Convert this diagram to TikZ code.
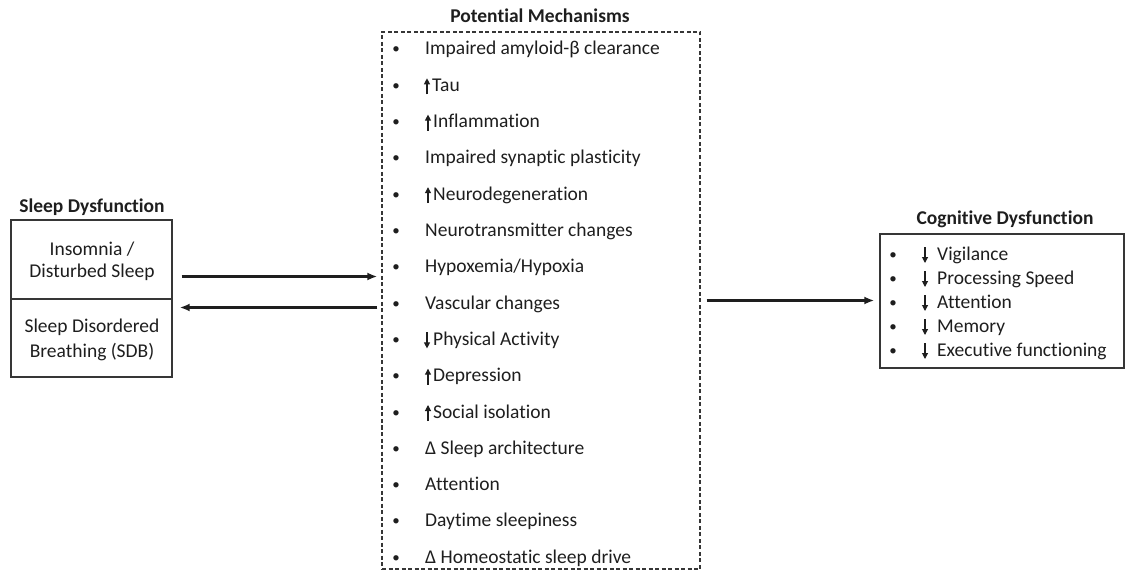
\documentclass[tikz,border=0pt]{standalone}
\usepackage{fontspec}
\setmainfont{Carlito}[Ligatures={NoCommon}]
\usetikzlibrary{arrows.meta}
\definecolor{ink}{HTML}{1E1E1E}
\definecolor{linec}{HTML}{363636}
\begin{document}
\begin{tikzpicture}[x=1pt,y=-1pt,
  txt/.style={font=\fontsize{19.5}{23}\selectfont, text=ink, inner sep=0pt},
  ttl/.style={font=\fontsize{19.5}{23}\selectfont\bfseries, text=ink, inner sep=0pt},
  solidbox/.style={draw=linec, line width=1.4pt, rectangle, inner sep=0pt},
  dashbox/.style={draw=linec, line width=1.4pt, rectangle, inner sep=0pt, dash pattern=on 4pt off 2.5pt},
  arr/.style={draw=ink, line width=2.2pt, -{Latex[length=10pt,width=8pt]}},
  uparr/.style={draw=ink, line width=1.1pt, -{Triangle[length=6pt,width=6pt]}},
  bul/.style={font=\fontsize{15}{18}\selectfont, text=ink, inner sep=0pt, anchor=base},
  item/.style={txt, anchor=base west}
]
\useasboundingbox (0,0) rectangle (1127,572);

% ---------- left block ----------
\node[ttl, anchor=base] (sdt) at (92,213) {Sleep Dysfunction};
\node[solidbox, minimum width=161pt, minimum height=157pt] (sd) at (91.5,298.5) {};
\coordinate (div) at (0,299);
\draw[linec, line width=1.4pt] (sd.west |- div) -- (sd.east |- div);
\node[txt, anchor=base] (l1) at (92,255) {Insomnia /};
\node[txt, anchor=base] (l2) at (92,277) {Disturbed Sleep};
\node[txt, anchor=base] (l3) at (92,332) {Sleep Disordered};
\node[txt, anchor=base] (l4) at (92,357) {Breathing (SDB)};

% ---------- middle block ----------
\node[ttl, anchor=base] (mt) at (540,23) {Potential Mechanisms};
\node[dashbox, minimum width=318pt, minimum height=537pt] (mech) at (541,300.5) {};

\foreach \i/\b in {0/55,1/91.3,2/127.6,3/163.9,4/200.2,5/236.5,6/272.8,7/309.1,8/345.4,9/381.7,10/418,11/454.3,12/490.6,13/526.9,14/563.2}
  \node[bul] (b\i) at (396,\b-1) {•};

\node[item] (m0)  at (425,55)    {Impaired amyloid-β clearance};
\node[item] (m1)  at (432,91.3)  {Tau};
\node[item] (m2)  at (433,127.6) {Inflammation};
\node[item] (m3)  at (425,163.9) {Impaired synaptic plasticity};
\node[item] (m4)  at (433,200.2) {Neurodegeneration};
\node[item] (m5)  at (425,236.5) {Neurotransmitter changes};
\node[item] (m6)  at (425,272.8) {Hypoxemia/Hypoxia};
\node[item] (m7)  at (425,309.1) {Vascular changes};
\node[item] (m8)  at (433,345.4) {Physical Activity};
\node[item] (m9)  at (433,381.7) {Depression};
\node[item] (m10) at (433,418)   {Social isolation};
\node[item] (m11) at (425,454.3) {Δ Sleep architecture};
\node[item] (m12) at (425,490.6) {Attention};
\node[item] (m13) at (425,526.9) {Daytime sleepiness};
\node[item] (m14) at (425,563.2) {Δ Homeostatic sleep drive};

\foreach \n in {m1,m2,m4,m9,m10}
  \draw[uparr] ([xshift=-5pt,yshift=-3pt]\n.base west) -- ++(0,-16);
\draw[uparr] ([xshift=-6pt,yshift=13pt]m8.base west) -- ++(0,16);

% ---------- right block ----------
\node[ttl, anchor=base] (ct) at (1005,225) {Cognitive Dysfunction};
\node[solidbox, minimum width=244pt, minimum height=134pt] (cd) at (1002,301) {};
\foreach \i/\b in {1/260,2/284,3/308,4/332,5/356}
  \node[bul] (cb\i) at (893,\b-1) {•};
\node[item] (c1) at (937,260) {Vigilance};
\node[item] (c2) at (937,284) {Processing Speed};
\node[item] (c3) at (937,308) {Attention};
\node[item] (c4) at (937,332) {Memory};
\node[item] (c5) at (937,356) {Executive functioning};
\foreach \n in {c1,c2,c3,c4,c5}
  \draw[uparr] ([xshift=-12pt,yshift=13pt]\n.base west) -- ++(0,16);

% ---------- connectors ----------
\coordinate (y1) at (0,276.5);
\coordinate (y2) at (0,307.5);
\coordinate (y3) at (0,300.5);
\draw[arr, shorten <=9pt, shorten >=4pt] (sd.east |- y1) -- (mech.west |- y1);
\draw[arr, shorten <=4pt, shorten >=7pt] (mech.west |- y2) -- (sd.east |- y2);
\draw[arr, shorten <=6pt, shorten >=5pt] (mech.east |- y3) -- (cd.west |- y3);
\end{tikzpicture}
\end{document}
